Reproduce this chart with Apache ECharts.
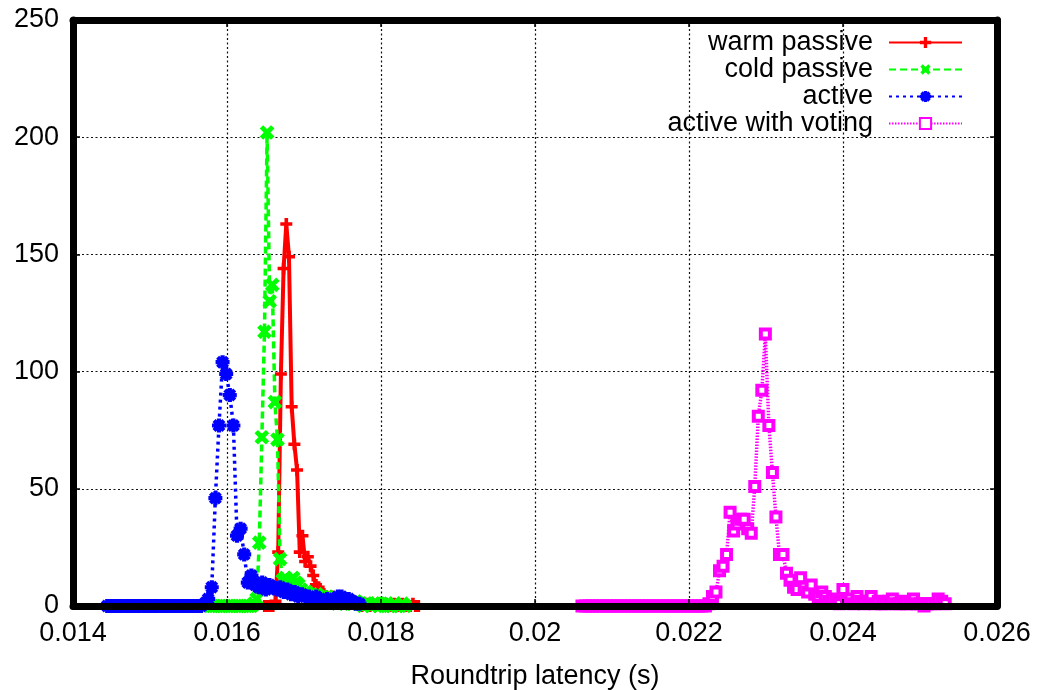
<!DOCTYPE html>
<html><head><meta charset="utf-8">
<script src="https://cdn.jsdelivr.net/npm/echarts@6/dist/echarts.min.js"></script>
<style>html,body{margin:0;padding:0;background:#fff}#c{width:1041px;height:690px}</style>
</head><body><div id="c"></div>
<script>
// ---- data ----
const seriesNames = ['warm passive', 'cold passive', 'active', 'active with voting'];
const xTickLabels = ['0.014', '0.016', '0.018', '0.02', '0.022', '0.024', '0.026'];
const yTickLabels = ['0', '50', '100', '150', '200', '250'];

// histogram bins: first bin centre, bin width, counts per bin
const warmStart = 0.01649, warmWidth = 0.000035;
const warmCounts = [0,0,0,0,2,23,99,144,163,149,85,69,58,23,30,19,21,17,13,9,8,6,5,
  4,3,4,2,3,2,1,2,1,1,2,1,1,0,1,1,0,1,0,1,0,0,1,0,0,1,0,0,1,0,0,0,1,0,0];

const coldStart = 0.015777, coldWidth = 0.0000338;
const coldCounts = [0,0,0,0,0,0,0,0,0,0,0,0,0,0,0,0,0,
  1,3,27,72,117,202,130,137,87,71,20,
  11,12,10,11,12,10,9,7,
  5,6,4,5,4,5,3,4,3,4,2,3,
  2,1,2,3,1,2,1,1,2,1,1,0,1,1,0,1,1,0,1,0,1,0,0,1,0,0,1,0];

const activeStart = 0.014445, activeWidth = 0.0000468;
const activeCounts = [0,0,0,0,0,0,0,0,0,0,0,0,0,0,0,0,0,0,0,0,0,0,0,0,0,0,0,
  1,3,8,46,77,104,99,90,77,
  30,33,22,10,13,
  9,8,10,7,9,8,7,8,6,7,
  5,6,4,5,4,4,3,4,3,2,
  3,2,3,4,4,3,3,2,1,1];

const votingStart = 0.02061, votingWidth = 0.0000458;
const votingCounts = [0,0,0,0,0,0,0,0,0,0,0,0,0,0,0,0,0,0,0,0,0,0,0,0,0,0,0,0,0,0,0,0,0,0,0,0,
  1,4,6,15,17,22,40,32,35,37,
  37,33,31,51,81,92,116,77,57,38,
  22,22,14,11,8,7,12,8,6,9,
  5,4,6,4,2,3,2,1,7,2,
  3,1,4,2,1,2,4,1,2,1,
  1,2,3,1,1,2,1,1,3,1,
  1,0,1,1,1,3,2,1];

// ---- build ----
function bins(start, width, counts) {
  return counts.map((c, i) => [start + i * width, c]);
}
const FONT = 'Liberation Sans';
const FS = 27;
const plusPath = 'path://M3.5,0H6.5V3.5H10V6.5H6.5V10H3.5V6.5H0V3.5H3.5Z';
const starPath = 'path://M3.5,0H6.5V3.5H10V6.5H6.5V10H3.5V6.5H0V3.5H3.5Z' +
  'M7.47,0.4L9.6,2.53L7.12,5L9.6,7.47L7.47,9.6L5,7.12L2.53,9.6L0.4,7.47L2.88,5L0.4,2.53L2.53,0.4L5,2.88Z';

const gridLine = { show: true, lineStyle: { color: '#111', width: 1.2, type: [2, 2.5] } };
const border = { show: true, onZero: false, lineStyle: { color: '#000', width: 7 } };
const tick = { show: true, inside: true, length: 7, lineStyle: { color: '#000', width: 1.5 } };

const chart = echarts.init(document.getElementById('c'), null, { renderer: 'canvas' });
chart.setOption({
  animation: false,
  backgroundColor: '#fff',
  grid: { left: 73, right: 44, top: 20, bottom: 84, outerBoundsMode: 'none', containLabel: false },
  legend: {
    orient: 'vertical', right: 78, top: 29, align: 'right', padding: 0,
    itemWidth: 73, itemHeight: 14, itemGap: 0,
    selectedMode: false,
    textStyle: { fontFamily: FONT, fontSize: FS, color: '#000', lineHeight: 27, padding: [0, 11, 0, 0] },
    data: seriesNames
  },
  xAxis: [
    {
      type: 'value', min: 0.014, max: 0.026, interval: 0.002, position: 'bottom', z: 10,
      axisLine: border, axisTick: tick,
      axisLabel: { fontFamily: FONT, fontSize: FS, color: '#000', margin: 14,
        formatter: v => xTickLabels[Math.round((v - 0.014) / 0.002)] },
      splitLine: { show: false },
      name: 'Roundtrip latency (s)', nameLocation: 'middle', nameGap: 57,
      nameTextStyle: { fontFamily: FONT, fontSize: FS, color: '#000' }
    },
    {
      type: 'value', min: 0.014, max: 0.026, interval: 0.002, position: 'top', z: 1,
      axisLine: border, axisTick: tick, axisLabel: { show: false },
      splitLine: gridLine
    }
  ],
  yAxis: [
    {
      type: 'value', min: 0, max: 250, interval: 50, position: 'left', z: 10,
      axisLine: border, axisTick: tick,
      axisLabel: { fontFamily: FONT, fontSize: FS, color: '#000', margin: 14,
        formatter: v => yTickLabels[Math.round(v / 50)] },
      splitLine: { show: false }
    },
    {
      type: 'value', min: 0, max: 250, interval: 50, position: 'right', z: 1,
      axisLine: border, axisTick: tick, axisLabel: { show: false },
      splitLine: gridLine
    }
  ],
  series: [
    {
      name: seriesNames[0], type: 'line', data: bins(warmStart, warmWidth, warmCounts),
      symbol: plusPath, symbolSize: 12, clip: false, silent: true,
      lineStyle: { color: '#ff0000', width: 4 }, itemStyle: { color: '#ff0000' },
      emphasis: { disabled: true }
    },
    {
      name: seriesNames[1], type: 'line', data: bins(coldStart, coldWidth, coldCounts),
      symbol: plusPath, symbolRotate: 45, symbolSize: 16, clip: false, silent: true,
      lineStyle: { color: '#00ff00', width: 3.5, type: [7, 4] }, itemStyle: { color: '#00ff00' },
      emphasis: { disabled: true }
    },
    {
      name: seriesNames[2], type: 'line', data: bins(activeStart, activeWidth, activeCounts),
      symbol: starPath, symbolSize: 14, clip: false, silent: true,
      lineStyle: { color: '#0000ff', width: 3.5, type: [3, 4] }, itemStyle: { color: '#0000ff' },
      emphasis: { disabled: true }
    },
    {
      name: seriesNames[3], type: 'line', data: bins(votingStart, votingWidth, votingCounts),
      symbol: 'rect', symbolSize: 9, clip: false, silent: true,
      lineStyle: { color: '#ff00ff', width: 3.5, type: [1.5, 1.5] },
      itemStyle: { color: '#ffffff', borderColor: '#ff00ff', borderWidth: 4 },
      emphasis: { disabled: true }
    }
  ]
});
</script>
</body></html>
